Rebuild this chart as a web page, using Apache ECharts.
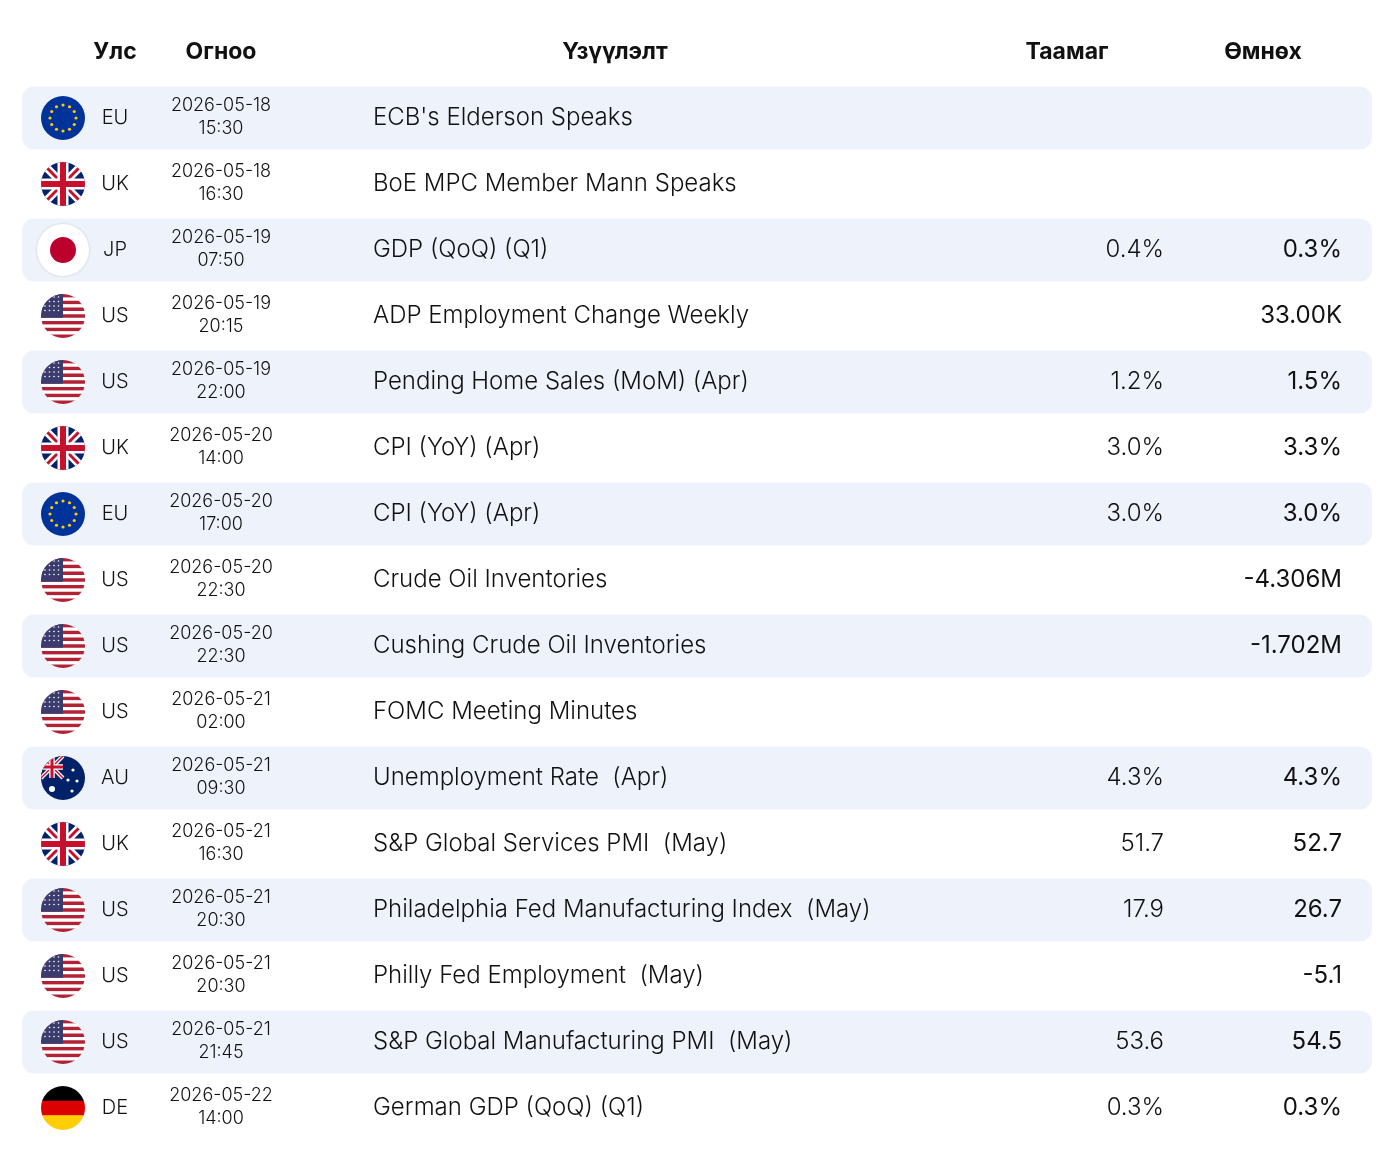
<!DOCTYPE html>
<html>
<head>
<meta charset="utf-8">
<title>Calendar</title>
<script src="https://cdn.jsdelivr.net/npm/echarts@6/dist/echarts.min.js"></script>
<style>html,body{margin:0;background:#fff;}</style>
</head>
<body>
<div id="main" style="width:1395px;height:1164px;"></div>
<script>
var headers = ['Улс', 'Огноо', 'Үзүүлэлт', 'Таамаг', 'Өмнөх'];
var countries = ['EU','UK','JP','US','US','UK','EU','US','US','US','AU','UK','US','US','US','DE'];
var dates = ['2026-05-18','2026-05-18','2026-05-19','2026-05-19','2026-05-19','2026-05-20','2026-05-20','2026-05-20','2026-05-20','2026-05-21','2026-05-21','2026-05-21','2026-05-21','2026-05-21','2026-05-21','2026-05-22'];
var times = ['15:30','16:30','07:50','20:15','22:00','14:00','17:00','22:30','22:30','02:00','09:30','16:30','20:30','20:30','21:45','14:00'];
var events = ["ECB's Elderson Speaks","BoE MPC Member Mann Speaks","GDP (QoQ) (Q1)","ADP Employment Change Weekly","Pending Home Sales (MoM) (Apr)","CPI (YoY) (Apr)","CPI (YoY) (Apr)","Crude Oil Inventories","Cushing Crude Oil Inventories","FOMC Meeting Minutes","Unemployment Rate  (Apr)","S&P Global Services PMI  (May)","Philadelphia Fed Manufacturing Index  (May)","Philly Fed Employment  (May)","S&P Global Manufacturing PMI  (May)","German GDP (QoQ) (Q1)"];
var forecast = ['','','0.4%','','1.2%','3.0%','3.0%','','','','4.3%','51.7','17.9','','53.6','0.3%'];
var previous = ['','','0.3%','33.00K','1.5%','3.3%','3.0%','-4.306M','-1.702M','','4.3%','52.7','26.7','-5.1','54.5','0.3%'];

var FONT = 'Inter, "Noto Sans", sans-serif';
var chart = echarts.init(document.getElementById('main'));

function ukParts(cx, cy, r) {
    var L = function (x1, y1, x2, y2, w, c) {
        return {type:'line', shape:{x1:x1,y1:y1,x2:x2,y2:y2}, style:{stroke:c, lineWidth:w}};
    };
    return [
        {type:'rect', shape:{x:cx-r,y:cy-r,width:2*r,height:2*r}, style:{fill:'#012169'}},
        L(cx-r,cy-r,cx+r,cy+r,8,'#fff'), L(cx-r,cy+r,cx+r,cy-r,8,'#fff'),
        L(cx-r,cy-r,cx+r,cy+r,3,'#c8102e'), L(cx-r,cy+r,cx+r,cy-r,3,'#c8102e'),
        L(cx-r,cy,cx+r,cy,11,'#fff'), L(cx,cy-r,cx,cy+r,11,'#fff'),
        L(cx-r,cy,cx+r,cy,6,'#c8102e'), L(cx,cy-r,cx,cy+r,6,'#c8102e')
    ];
}

function flag(code, cx, cy) {
    var r = 22, kids = [];
    if (code === 'EU') {
        kids.push({type:'rect', shape:{x:cx-r,y:cy-r,width:2*r,height:2*r}, style:{fill:'#003399'}});
        for (var k = 0; k < 12; k++) {
            var a = k * Math.PI / 6;
            kids.push({type:'circle', shape:{cx:cx+13*Math.cos(a), cy:cy+13*Math.sin(a), r:1.6}, style:{fill:'#ffcc00'}});
        }
    } else if (code === 'UK') {
        kids = ukParts(cx, cy, r);
    } else if (code === 'JP') {
        kids.push({type:'rect', shape:{x:cx-r,y:cy-r,width:2*r,height:2*r}, style:{fill:'#fff'}});
        kids.push({type:'circle', shape:{cx:cx,cy:cy,r:13}, style:{fill:'#bc002d'}});
    } else if (code === 'US') {
        var h = 2 * r / 13;
        for (var s = 0; s < 13; s++) {
            kids.push({type:'rect', shape:{x:cx-r,y:cy-r+s*h,width:2*r,height:h+0.3}, style:{fill: s % 2 ? '#fff' : '#b22234'}});
        }
        kids.push({type:'rect', shape:{x:cx-r,y:cy-r,width:r*1.0,height:h*7}, style:{fill:'#3c3b6e'}});
        for (var i = 0; i < 4; i++) for (var j = 0; j < 4; j++) {
            kids.push({type:'circle', shape:{cx:cx-r+4+j*4.5, cy:cy-r+3+i*4.5, r:0.8}, style:{fill:'#fff'}});
        }
    } else if (code === 'AU') {
        kids.push({type:'rect', shape:{x:cx-r,y:cy-r,width:2*r,height:2*r}, style:{fill:'#012169'}});
        var sub = ukParts(cx-r/2, cy-r/2, r/2);
        sub.forEach(function (e) { if (e.type === 'line') e.style.lineWidth = e.style.lineWidth / 2; });
        kids = kids.concat(sub);
        kids.push({type:'circle', shape:{cx:cx-r/2,cy:cy+r/2,r:3}, style:{fill:'#fff'}});
        [[cx+10,cy-8],[cx+5,cy+2],[cx+14,cy+3],[cx+9,cy+13]].forEach(function (p) {
            kids.push({type:'circle', shape:{cx:p[0],cy:p[1],r:1.6}, style:{fill:'#fff'}});
        });
    } else if (code === 'DE') {
        var cols = ['#000', '#dd0000', '#ffce00'];
        for (var b = 0; b < 3; b++) {
            kids.push({type:'rect', shape:{x:cx-r,y:cy-r+b*2*r/3,width:2*r,height:2*r/3+0.3}, style:{fill:cols[b]}});
        }
    }
    var out = [];
    if (code === 'JP') out.push({type:'circle', shape:{cx:cx,cy:cy,r:r+4}, style:{fill:'#fff', shadowBlur:3, shadowColor:'rgba(0,0,0,0.15)'}});
    out.push({type:'group', children:kids, clipPath:{type:'circle', shape:{cx:cx,cy:cy,r:r}}});
    return out;
}

var rows = events.map(function (e, i) { return [0, i]; });

chart.setOption({
    animation: false,
    grid: {left: 0, right: 0, top: 85, bottom: 23},
    xAxis: {type: 'value', min: 0, max: 1395, show: false},
    yAxis: {type: 'category', data: events, inverse: true, show: false},
    graphic: headers.map(function (t, i) {
        var xs = [115, 221, 615, 1067, 1263];
        return {type:'text', x: xs[i], y: 52, style:{text:t, font:'bold 23px ' + FONT, fill:'#111', align:'center', verticalAlign:'middle'}};
    }),
    series: [{
        type: 'custom',
        data: rows,
        renderItem: function (params, api) {
            var i = api.value(1);
            var y = api.coord([0, i])[1];
            var band = api.size([0, 1])[1];
            var els = [];
            if (i % 2 === 0) {
                els.push({type:'rect', shape:{x:22, y:y-band/2+1.5, width:1350, height:band-3, r:12}, style:{fill:'#eef3fb'}});
            }
            els = els.concat(flag(countries[i], 63, y));
            var txt = function (t, x, yy, size, align, weight) {
                return {type:'text', x:x, y:yy, style:{text:t, font:(weight||'300') + ' ' + size + 'px ' + FONT, fill:'#111', align:align, verticalAlign:'middle'}};
            };
            els.push(txt(countries[i], 115, y, 20, 'center'));
            els.push(txt(dates[i], 221, y-12, 18, 'center'));
            els.push(txt(times[i], 221, y+11, 18, 'center'));
            els.push(txt(events[i], 373, y, 24, 'left'));
            els.push(txt(forecast[i], 1164, y, 24, 'right'));
            els.push(txt(previous[i], 1342, y, 24, 'right', '400'));
            return {type:'group', children: els};
        }
    }]
});
</script>
</body>
</html>
